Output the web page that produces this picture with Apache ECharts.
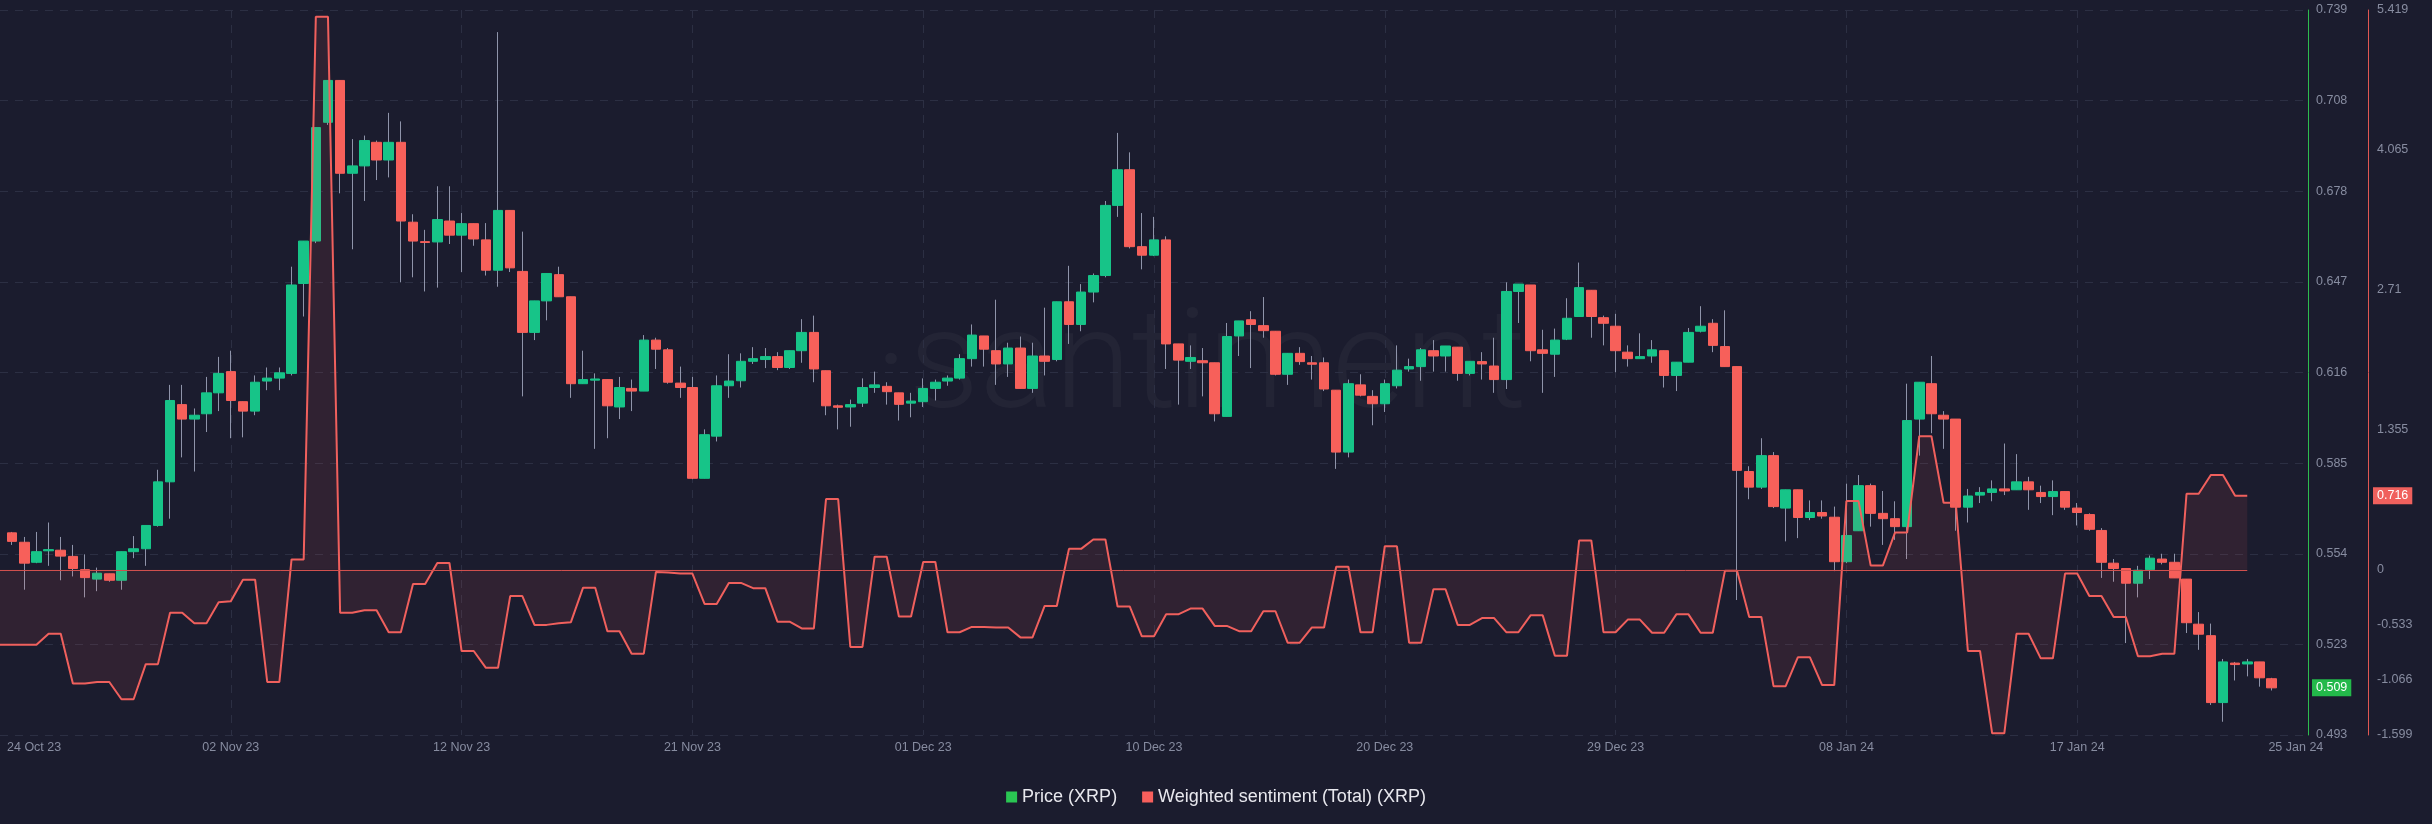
<!DOCTYPE html>
<html>
<head>
<meta charset="utf-8">
<script src="https://cdn.jsdelivr.net/npm/echarts/dist/echarts.min.js"></script>
<style>
html,body{margin:0;padding:0;background:#1b1c2e;}
#chart{width:2432px;height:824px;}
</style>
</head>
<body>
<div id="chart"></div>
<script>
// ---------- DATA ----------
// 12-hour candles, index 0 is the left edge (24 Oct 23)
const categoryCount = 191;
const categories = [];
(function () {
  const t0 = Date.UTC(2023, 9, 24, 0, 0);
  for (let i = 0; i < categoryCount; i++) {
    categories.push(new Date(t0 + i * 12 * 3600 * 1000).toISOString().slice(0, 16).replace('T', ' '));
  }
})();

const xTickIndex  = [0, 19, 38, 57, 76, 95, 114, 133, 152, 171, 189];
const xTickLabels = ['24 Oct 23', '02 Nov 23', '12 Nov 23', '21 Nov 23', '01 Dec 23', '10 Dec 23',
                     '20 Dec 23', '29 Dec 23', '08 Jan 24', '17 Jan 24', '25 Jan 24'];

const priceTickLabels = ['0.493', '0.523', '0.554', '0.585', '0.616', '0.647', '0.678', '0.708', '0.739'];
const priceMin = 0.493, priceMax = 0.739;
const sentTickValues = [-1.599, -1.066, -0.533, 0, 1.355, 2.71, 4.065, 5.419];
const sentMin = -1.599, sentMax = 5.419;

const priceOpen = [null,
0.5616,0.5584,0.5516,0.5555,0.5557,0.5536,0.5491,0.5459,0.5477,0.5455,
0.5552,0.5562,0.5641,0.5789,0.6051,0.6002,0.6020,0.6091,0.6163,0.6061,
0.6029,0.6131,0.6141,0.6157,0.6462,0.6606,0.7009,0.7151,0.6836,0.6861,
0.6941,0.6881,0.6941,0.6670,0.6604,0.6603,0.6674,0.6626,0.6665,0.6610,
0.6507,0.6710,0.6503,0.6296,0.6403,0.6492,0.6417,0.6122,0.6134,0.6136,
0.6043,0.6106,0.6097,0.6270,0.6237,0.6124,0.6109,0.5801,0.5944,0.6115,
0.6132,0.6198,0.6204,0.6214,0.6177,0.6234,0.6296,0.6166,0.6047,0.6043,
0.6056,0.6109,0.6113,0.6091,0.6056,0.6061,0.6106,0.6131,0.6141,0.6207,
0.6284,0.6234,0.6189,0.6243,0.6106,0.6216,0.6204,0.6400,0.6323,0.6433,
0.6489,0.6727,0.6848,0.6587,0.6558,0.6610,0.6257,0.6198,0.6200,0.6193,
0.6011,0.6284,0.6339,0.6319,0.6300,0.6154,0.6225,0.6193,0.6193,0.6100,
0.5890,0.6118,0.6079,0.6054,0.6115,0.6172,0.6180,0.6234,0.6216,0.6246,
0.6157,0.6197,0.6182,0.6136,0.6435,0.6457,0.6237,0.6222,0.6273,0.6350,
0.6439,0.6346,0.6317,0.6229,0.6207,0.6216,0.6234,0.6150,0.6195,0.6300,
0.6327,0.6248,0.6180,0.5824,0.5771,0.5878,0.5700,0.5762,0.5668,0.5685,
0.5669,0.5518,0.5623,0.5776,0.5682,0.5664,0.5637,0.6002,0.6122,0.6015,
0.6002,0.5703,0.5744,0.5753,0.5765,0.5762,0.5789,0.5753,0.5739,0.5756,
0.5700,0.5678,0.5624,0.5513,0.5495,0.5445,0.5491,0.5527,0.5516,0.5459,
0.5306,0.5267,0.5040,0.5174,0.5171,0.5178,0.5121];

const priceClose = [null,
0.5587,0.5513,0.5552,0.5559,0.5537,0.5495,0.5464,0.5479,0.5455,0.5552,
0.5562,0.5641,0.5789,0.6065,0.6002,0.6015,0.6091,0.6157,0.6065,0.6029,
0.6127,0.6141,0.6159,0.6457,0.6606,0.6991,0.7151,0.6836,0.6861,0.6947,
0.6881,0.6941,0.6674,0.6606,0.6601,0.6679,0.6626,0.6665,0.6613,0.6507,
0.6710,0.6515,0.6296,0.6403,0.6496,0.6417,0.6122,0.6136,0.6138,0.6047,
0.6109,0.6097,0.6270,0.6239,0.6127,0.6109,0.5801,0.5949,0.6115,0.6131,
0.6198,0.6207,0.6214,0.6177,0.6234,0.6296,0.6172,0.6047,0.6042,0.6051,
0.6109,0.6118,0.6095,0.6052,0.6063,0.6106,0.6127,0.6141,0.6207,0.6287,
0.6239,0.6189,0.6243,0.6106,0.6216,0.6198,0.6400,0.6323,0.6433,0.6489,
0.6727,0.6848,0.6587,0.6558,0.6610,0.6257,0.6202,0.6211,0.6193,0.6020,
0.6282,0.6335,0.6323,0.6302,0.6154,0.6225,0.6197,0.6188,0.6104,0.5890,
0.6122,0.6083,0.6054,0.6122,0.6168,0.6180,0.6237,0.6216,0.6250,0.6157,
0.6198,0.6189,0.6136,0.6435,0.6460,0.6234,0.6225,0.6270,0.6344,0.6448,
0.6350,0.6327,0.6234,0.6207,0.6214,0.6237,0.6150,0.6195,0.6296,0.6317,
0.6252,0.6180,0.5828,0.5771,0.5878,0.5705,0.5762,0.5668,0.5685,0.5673,
0.5518,0.5607,0.5776,0.5682,0.5664,0.5637,0.5997,0.6127,0.6020,0.6002,
0.5703,0.5741,0.5753,0.5765,0.5758,0.5789,0.5762,0.5739,0.5756,0.5703,
0.5685,0.5628,0.5516,0.5495,0.5445,0.5489,0.5530,0.5516,0.5463,0.5311,
0.5272,0.5040,0.5178,0.5169,0.5178,0.5124,0.5090];

const priceLow = [null,
0.5575,0.5423,0.5513,0.5504,0.5455,0.5468,0.5397,0.5418,0.5450,0.5423,
0.5530,0.5504,0.5637,0.5664,0.5872,0.5824,0.5958,0.6029,0.5937,0.5940,
0.6015,0.6100,0.6100,0.6150,0.6350,0.6599,0.7000,0.6768,0.6578,0.6742,
0.6813,0.6822,0.6466,0.6483,0.6435,0.6448,0.6596,0.6501,0.6590,0.6489,
0.6451,0.6501,0.6079,0.6270,0.6337,0.6417,0.6074,0.6122,0.5901,0.5937,
0.6002,0.6029,0.6097,0.6172,0.6122,0.6074,0.5798,0.5801,0.5926,0.6074,
0.6109,0.6189,0.6175,0.6168,0.6172,0.6193,0.6127,0.6015,0.5967,0.5976,
0.6043,0.6091,0.6051,0.5997,0.6008,0.6043,0.6065,0.6115,0.6136,0.6180,
0.6180,0.6118,0.6145,0.6106,0.6091,0.6150,0.6198,0.6257,0.6300,0.6398,
0.6483,0.6688,0.6581,0.6510,0.6555,0.6172,0.6051,0.6172,0.6079,0.5994,
0.6011,0.6216,0.6175,0.6278,0.6150,0.6118,0.6186,0.6136,0.6097,0.5833,
0.5872,0.6079,0.5981,0.6026,0.6106,0.6163,0.6132,0.6163,0.6163,0.6132,
0.6150,0.6136,0.6091,0.6104,0.6328,0.6198,0.6091,0.6145,0.6270,0.6350,
0.6278,0.6252,0.6161,0.6180,0.6207,0.6193,0.6109,0.6097,0.6195,0.6296,
0.6229,0.6180,0.5388,0.5730,0.5765,0.5700,0.5587,0.5598,0.5659,0.5664,
0.5486,0.5513,0.5623,0.5637,0.5575,0.5592,0.5527,0.5878,0.5954,0.5901,
0.5623,0.5651,0.5717,0.5723,0.5744,0.5762,0.5694,0.5717,0.5676,0.5694,
0.5641,0.5623,0.5463,0.5450,0.5242,0.5397,0.5459,0.5509,0.5463,0.5276,
0.5219,0.5032,0.4975,0.5115,0.5129,0.5094,0.5081];

const priceHigh = [null,
0.5619,0.5602,0.5619,0.5651,0.5602,0.5575,0.5543,0.5498,0.5477,0.5552,
0.5605,0.5641,0.5830,0.6118,0.6118,0.6038,0.6145,0.6213,0.6234,0.6061,
0.6150,0.6177,0.6177,0.6519,0.6606,0.6991,0.7151,0.7151,0.6952,0.6964,
0.6947,0.7041,0.7012,0.6697,0.6644,0.6792,0.6792,0.6701,0.6665,0.6667,
0.7315,0.6710,0.6638,0.6403,0.6496,0.6519,0.6417,0.6234,0.6157,0.6136,
0.6145,0.6136,0.6287,0.6278,0.6243,0.6180,0.6145,0.5967,0.6150,0.6222,
0.6225,0.6246,0.6243,0.6229,0.6234,0.6341,0.6353,0.6166,0.6051,0.6068,
0.6140,0.6163,0.6127,0.6091,0.6091,0.6140,0.6136,0.6150,0.6222,0.6323,
0.6284,0.6407,0.6261,0.6282,0.6261,0.6380,0.6400,0.6522,0.6460,0.6496,
0.6742,0.6973,0.6907,0.6701,0.6688,0.6622,0.6257,0.6252,0.6243,0.6193,
0.6328,0.6335,0.6368,0.6416,0.6300,0.6225,0.6246,0.6216,0.6211,0.6100,
0.6136,0.6154,0.6100,0.6136,0.6252,0.6207,0.6243,0.6270,0.6250,0.6246,
0.6198,0.6229,0.6278,0.6466,0.6460,0.6457,0.6305,0.6309,0.6412,0.6533,
0.6439,0.6353,0.6359,0.6252,0.6293,0.6270,0.6234,0.6195,0.6311,0.6385,
0.6341,0.6371,0.6180,0.5842,0.5937,0.5890,0.5762,0.5762,0.5726,0.5726,
0.5705,0.5783,0.5812,0.5783,0.5758,0.5723,0.6122,0.6127,0.6216,0.6029,
0.6002,0.5765,0.5771,0.5794,0.5919,0.5883,0.5806,0.5776,0.5794,0.5756,
0.5717,0.5682,0.5632,0.5527,0.5495,0.5504,0.5539,0.5545,0.5545,0.5459,
0.5347,0.5308,0.5188,0.5178,0.5188,0.5178,0.5124];

const sentiment = [
-0.726,-0.726,-0.726,-0.726,-0.619,-0.619,-1.101,-1.101,-1.086,-1.086,
-1.253,-1.253,-0.913,-0.913,-0.416,-0.416,-0.518,-0.518,-0.315,-0.304,
-0.096,-0.096,-1.086,-1.086,0.101,0.101,5.353,5.353,-0.416,-0.416,
-0.391,-0.391,-0.604,-0.604,-0.137,-0.137,0.066,0.066,-0.786,-0.786,
-0.949,-0.949,-0.254,-0.254,-0.533,-0.533,-0.518,-0.507,-0.173,-0.173,
-0.594,-0.594,-0.812,-0.812,-0.020,-0.025,-0.036,-0.036,-0.330,-0.330,
-0.127,-0.127,-0.178,-0.178,-0.502,-0.502,-0.568,-0.568,0.685,0.685,
-0.746,-0.746,0.127,0.127,-0.452,-0.452,0.076,0.076,-0.604,-0.604,
-0.553,-0.553,-0.558,-0.558,-0.654,-0.654,-0.350,-0.350,0.203,0.203,
0.294,0.294,-0.355,-0.355,-0.644,-0.644,-0.431,-0.431,-0.375,-0.375,
-0.543,-0.543,-0.594,-0.594,-0.401,-0.401,-0.705,-0.705,-0.558,-0.558,
0.030,0.030,-0.604,-0.604,0.228,0.228,-0.705,-0.705,-0.188,-0.188,
-0.533,-0.533,-0.467,-0.467,-0.604,-0.604,-0.441,-0.441,-0.832,-0.832,
0.284,0.284,-0.604,-0.604,-0.482,-0.482,-0.609,-0.609,-0.431,-0.431,
-0.609,-0.609,-0.010,-0.010,-0.457,-0.457,-1.126,-1.126,-0.847,-0.847,
-1.116,-1.116,0.665,0.665,0.041,0.041,0.360,0.360,1.294,1.294,
0.649,0.649,-0.786,-0.786,-1.583,-1.583,-0.619,-0.619,-0.857,-0.857,
-0.036,-0.036,-0.254,-0.254,-0.457,-0.457,-0.837,-0.837,-0.812,-0.812,
0.736,0.736,0.918,0.918,0.716,0.716];

// ---------- STYLE ----------
const FONT = '"Liberation Sans", Arial, sans-serif';
const BG = '#1b1c2e';
const GREEN = '#17c488', RED = '#f7605a', WICK = '#8f94aa';
const SENT = '#f0605d';
const GRID = '#2c2f43';
const LABEL = '#878ca0';

// options tables built from the arrays
const candleData = priceOpen.map((o, i) => o == null ? ['-', '-', '-', '-'] :
  [o, priceClose[i], priceLow[i], priceHigh[i]]);
const bodyData = priceOpen.map((o, i) => o == null ? ['-', '-', '-', '-'] :
  [o, priceClose[i], Math.min(o, priceClose[i]), Math.max(o, priceClose[i])]);
const priceStep = (priceMax - priceMin) / (priceTickLabels.length - 1);
const priceTickValues = priceTickLabels.map((_, k) => priceMin + k * priceStep);
const lastClose = priceClose[priceClose.length - 1];
const lastSent = sentiment[sentiment.length - 1];

const chart = echarts.init(document.getElementById('chart'), null, {renderer: 'canvas'});
chart.setOption({
  backgroundColor: BG,
  animation: false,
  textStyle: {fontFamily: FONT},
  graphic: [{
    type: 'text', left: 874, top: 302, silent: true, z: -1,
    style: {text: '\u00b7santiment', font: '300 140px Roboto, sans-serif', fill: 'rgba(255,255,255,0.035)'}
  }],
  grid: {left: 0, right: 124, top: 10, bottom: 89, containLabel: false, outerBoundsMode: 'none'},
  legend: {
    top: 783, left: 'center', icon: 'rect', itemWidth: 11, itemHeight: 11, itemGap: 25,
    selectedMode: false,
    textStyle: {color: '#e8e8ee', fontSize: 18, fontFamily: FONT},
    data: [
      {name: 'Price (XRP)', icon: 'rect', itemStyle: {color: '#2ac653', borderWidth: 0}},
      {name: 'Weighted sentiment (Total) (XRP)', icon: 'rect', itemStyle: {color: '#f75f5c', borderWidth: 0}, lineStyle: {width: 0}}
    ]
  },
  xAxis: {
    type: 'category', data: categories, boundaryGap: false,
    axisLine: {show: false}, axisTick: {show: false},
    axisLabel: {
      color: LABEL, fontSize: 12.5, fontFamily: FONT, margin: 6,
      alignMinLabel: 'left',
      interval: (i) => xTickIndex.indexOf(i) >= 0,
      formatter: (v, i) => {
        const k = xTickIndex.indexOf(i);
        if (k < 0) return '';
        return k === 0 ? '{first|' + xTickLabels[k] + '}' : xTickLabels[k];
      },
      rich: {first: {padding: [0, 0, 0, 7], color: LABEL, fontSize: 12.5, fontFamily: FONT}}
    },
    splitLine: {
      show: true,
      interval: (i) => xTickIndex.indexOf(i) > 0 && i < 180,
      lineStyle: {color: GRID, type: [8, 7], width: 1}
    }
  },
  yAxis: [{
    type: 'value', position: 'right', offset: 0, min: priceMin, max: priceMax,
    axisLine: {show: true, lineStyle: {color: '#2dbd4e', width: 1}},
    axisTick: {show: false, customValues: priceTickValues},
    axisLabel: {
      customValues: priceTickValues, color: LABEL, fontSize: 12.5, fontFamily: FONT, margin: 8,
      formatter: (v) => priceTickLabels[Math.round((v - priceMin) / priceStep)]
    },
    splitLine: {show: true, lineStyle: {color: GRID, type: [8, 7], width: 1}},
    axisPointer: {
      show: true, status: 'show', value: lastClose, type: 'line', snap: false, triggerTooltip: false,
      lineStyle: {opacity: 0, width: 0},
      label: {show: true, backgroundColor: '#23b94a', color: '#ffffff', fontSize: 12.5, fontFamily: FONT,
              padding: [2, 4, 2, 4], margin: 4, borderRadius: 0,
              formatter: (p) => Number(p.value).toFixed(3)}
    }
  }, {
    type: 'value', position: 'right', offset: 60, min: sentMin, max: sentMax,
    axisLine: {show: true, lineStyle: {color: '#e05752', width: 1}},
    axisTick: {show: false, customValues: sentTickValues},
    axisLabel: {
      customValues: sentTickValues, color: LABEL, fontSize: 12.5, fontFamily: FONT, margin: 9,
      formatter: (v) => String(+Number(v).toFixed(3))
    },
    splitLine: {show: false},
    axisPointer: {
      show: true, status: 'show', value: lastSent, type: 'line', snap: false, triggerTooltip: false,
      lineStyle: {opacity: 0, width: 0},
      label: {show: true, backgroundColor: '#f0605d', color: '#ffffff', fontSize: 12.5, fontFamily: FONT,
              padding: [2, 4, 2, 4], margin: 5, borderRadius: 0,
              formatter: (p) => Number(p.value).toFixed(3)}
    }
  }],
  series: [{
    name: 'wicks', type: 'candlestick', yAxisIndex: 0, data: candleData, barWidth: 1, silent: true,
    itemStyle: {color: WICK, color0: WICK, borderColor: WICK, borderColor0: WICK, borderWidth: 1}
  }, {
    name: 'Price (XRP)', type: 'candlestick', yAxisIndex: 0, data: bodyData, barWidth: 10,
    itemStyle: {color: GREEN, color0: RED, borderColor: GREEN, borderColor0: RED, borderWidth: 1}
  }, {
    name: 'Weighted sentiment (Total) (XRP)', type: 'line', yAxisIndex: 1, data: sentiment,
    showSymbol: false, symbol: 'none',
    lineStyle: {color: SENT, width: 2},
    itemStyle: {color: SENT},
    areaStyle: {color: 'rgba(240,96,93,0.14)', origin: 'auto'},
    markLine: {
      silent: true, symbol: ['none', 'none'], label: {show: false},
      lineStyle: {color: '#d0504e', width: 1, type: 'solid'},
      data: [[{coord: [categories[0], 0]}, {coord: [categories[sentiment.length - 1], 0]}]]
    }
  }]
});
</script>
</body>
</html>
